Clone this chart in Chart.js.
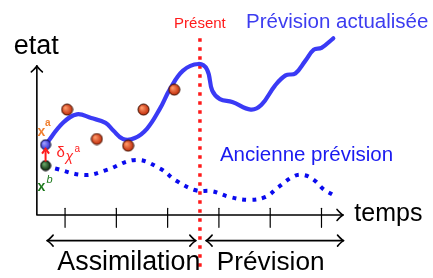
<!DOCTYPE html>
<html>
<head>
<meta charset="utf-8">
<script src="https://cdn.jsdelivr.net/npm/chart.js@4"></script>
<style>
html,body{margin:0;padding:0;background:#fff;}
#wrap{width:433px;height:278px;position:relative;}
</style>
</head>
<body>
<div id="wrap"><canvas id="c"></canvas></div>
<script>
// time (t) and state (s) units
const analysisT = [0.62,0.96,1.23,1.51,1.79,1.94,2.13,2.36,2.60,2.85,3.04,3.30,3.60,3.77,3.87,4.02,4.26,4.62,4.83,5.09,5.30,5.49,5.68,5.85,6.00,6.23];
const analysisS = [7.4,9.7,10.6,10.2,9.7,8.9,8.0,8.1,9.1,11.2,13.2,15.2,15.9,15.3,13.1,12.2,11.9,11.1,11.6,13.6,14.7,14.9,16.2,17.4,17.6,18.6];
const oldT = [0.62,0.81,1.38,1.79,2.38,2.85,3.17,3.55,3.87,4.21,4.58,4.91,5.15,5.47,5.66,5.85,6.04,6.23];
const oldS = [5.2,4.9,4.2,4.7,5.8,4.9,3.6,2.6,2.5,1.9,1.6,1.9,2.9,4.1,4.2,3.7,2.7,2.1];
const obsT = [1.04,1.62,2.23,2.53,3.13];
const obsS = [11.1,8.0,7.3,11.1,13.2];
const xa = [0.62, 7.4];
const xb = [0.62, 5.2];
const presentT = 3.63;
const tickT = [1,2,3,4,5,6];
const axisOrigin = [0.45, 0];
const axisEnd = [6.42, 15.7];
const assimRange = [0.65, 3.55];
const prevRange = [3.75, 6.43];

const zip = (a,b)=>a.map((v,i)=>({x:v,y:b[i]}));

function ball(r, inner, outer, edge){
  const c = document.createElement('canvas');
  const d = Math.ceil(r*2+2);
  c.width = d; c.height = d;
  const g = c.getContext('2d');
  const cx = d/2, cy = d/2;
  const grd = g.createRadialGradient(cx-r*0.35, cy-r*0.35, r*0.1, cx, cy, r);
  grd.addColorStop(0, inner);
  grd.addColorStop(1, outer);
  g.beginPath(); g.arc(cx,cy,r,0,Math.PI*2);
  g.fillStyle = grd; g.fill();
  g.lineWidth = 1; g.strokeStyle = edge; g.stroke();
  return c;
}
const redBall = ball(5.5, '#ff9a6a', '#c02a08', '#3a1000');
const blueBall = ball(5, '#a0a0ff', '#2a2ad0', '#101030');
const greenBall = ball(5, '#6aa86a', '#0a2a0a', '#000');

const F = '"Liberation Sans", Arial, sans-serif';
const labels = [
  {text:'etat', t:0.0, s:16.9, size:27, color:'#000', align:'left'},
  {text:'temps', t:6.64, s:-0.6, size:25, color:'#000', align:'left'},
  {text:'Présent', t:3.63, s:19.7, size:15, color:'#ff1a1a', align:'center'},
  {text:'Prévision actualisée', t:4.53, s:19.7, size:20.5, color:'#3c3cf0', align:'left'},
  {text:'Ancienne prévision', t:4.02, s:5.7, size:20.5, color:'#1a1af0', align:'left'},
  {text:'Assimilation', t:0.85, s:-5.8, size:26.8, color:'#000', align:'left'},
  {text:'Prévision', t:3.96, s:-5.8, size:26.2, color:'#000', align:'left'}
];

const deco = {
  id:'deco',
  beforeDatasetsDraw(chart){
    const ctx = chart.ctx, X = chart.scales.x, Y = chart.scales.y;
    const px = v=>X.getPixelForValue(v), py = v=>Y.getPixelForValue(v);
    ctx.save();
    ctx.strokeStyle = '#000'; ctx.lineWidth = 1.6; ctx.lineCap='round'; ctx.lineJoin='round';
    const ox = px(axisOrigin[0]), oy = py(axisOrigin[1]);
    const ex = px(axisEnd[0]), ey = py(axisEnd[1]);
    ctx.beginPath(); ctx.moveTo(ox, oy); ctx.lineTo(ox, ey); ctx.moveTo(ox, oy); ctx.lineTo(ex, oy); ctx.stroke();
    const head = (x,y,dir)=>{
      ctx.beginPath();
      const L=6, W=5.5;
      if(dir==='u'){ctx.moveTo(x-W,y+L);ctx.quadraticCurveTo(x-1,y+2,x,y);ctx.quadraticCurveTo(x+1,y+2,x+W,y+L);}
      if(dir==='r'){ctx.moveTo(x-L,y-W);ctx.quadraticCurveTo(x-2,y-1,x,y);ctx.quadraticCurveTo(x-2,y+1,x-L,y+W);}
      if(dir==='l'){ctx.moveTo(x+L,y-W);ctx.quadraticCurveTo(x+2,y-1,x,y);ctx.quadraticCurveTo(x+2,y+1,x+L,y+W);}
      ctx.stroke();
    };
    head(ox, ey, 'u'); head(ex, oy, 'r');
    ctx.lineWidth = 1.2;
    tickT.forEach(t=>{ctx.beginPath();ctx.moveTo(px(t),py(0.7));ctx.lineTo(px(t),py(-1.3));ctx.stroke();});
    ctx.lineWidth = 1.6;
    [assimRange, prevRange].forEach(r=>{
      const y = py(-2.7);
      ctx.beginPath(); ctx.moveTo(px(r[0]),y); ctx.lineTo(px(r[1]),y); ctx.stroke();
      head(px(r[0]),y,'l'); head(px(r[1]),y,'r');
    });
    ctx.restore();
  },
  afterDatasetsDraw(chart){
    const ctx = chart.ctx, X = chart.scales.x, Y = chart.scales.y;
    const px = v=>X.getPixelForValue(v), py = v=>Y.getPixelForValue(v);
    ctx.save();
    ctx.textBaseline = 'alphabetic';
    labels.forEach(l=>{
      ctx.textAlign = l.align;
      ctx.font = l.size+'px '+F; ctx.fillStyle = l.color;
      ctx.fillText(l.text, px(l.t), py(l.s));
    });
    ctx.textBaseline = 'middle';
    // red increment arrow
    ctx.strokeStyle = '#ff1a1a'; ctx.fillStyle='#ff1a1a'; ctx.lineWidth = 2;
    const ax = px(xa[0]), y0 = py(xb[1])-4, y1 = py(xa[1])+4;
    ctx.beginPath(); ctx.moveTo(ax,y0); ctx.lineTo(ax,y1+2); ctx.stroke();
    ctx.beginPath(); ctx.moveTo(ax-3.5,y1+5); ctx.lineTo(ax,y1); ctx.lineTo(ax+3.5,y1+5); ctx.stroke();
    // x^a
    ctx.textAlign='left';
    ctx.fillStyle = '#f08030';
    ctx.font = 'bold 14px '+F; ctx.fillText('x', ax-8, py(xa[1])-13);
    ctx.font = 'bold 10px '+F; ctx.fillText('a', ax-0.5, py(xa[1])-21);
    // delta
    ctx.fillStyle = '#ff2020';
    ctx.font = '15px '+F; ctx.fillText('δ', ax+11, py(xa[1])+8);
    ctx.font = 'italic 14px '+F; ctx.fillText('χ', ax+20, py(xa[1])+12);
    ctx.font = '10px '+F; ctx.fillText('a', ax+29, py(xa[1])+5);
    // x^b
    ctx.fillStyle = '#1e7a1e';
    ctx.font = 'bold 14px '+F; ctx.fillText('x', ax-8, py(xb[1])+22);
    ctx.font = 'italic 11px '+F; ctx.fillText('b', ax+1, py(xb[1])+14);
    ctx.restore();
  }
};

new Chart(document.getElementById('c'), {
  type:'scatter',
  data:{datasets:[
    {data:[{x:presentT,y:18.6},{x:presentT,y:-6}], showLine:true, borderColor:'#ff1a1a', borderWidth:3.5, borderDash:[3.5,5.5], pointRadius:0, order:5},
    {data:zip(oldT,oldS), showLine:true, borderColor:'#0a0aee', borderWidth:4, borderDash:[4,6], tension:0.4, pointRadius:0, order:4},
    {data:zip(analysisT,analysisS), showLine:true, borderColor:'#3a3af5', borderWidth:4.2, tension:0.4, pointRadius:0, borderCapStyle:'round', order:3},
    {data:zip(obsT,obsS), showLine:false, pointStyle:redBall, pointRadius:6, order:1},
    {data:[{x:xa[0],y:xa[1]}], showLine:false, pointStyle:blueBall, pointRadius:5, order:0},
    {data:[{x:xb[0],y:xb[1]}], showLine:false, pointStyle:greenBall, pointRadius:5, order:0}
  ]},
  options:{
    responsive:true, maintainAspectRatio:false, animation:false,
    layout:{padding:0},
    plugins:{legend:{display:false}, tooltip:{enabled:false}},
    scales:{
      x:{type:'linear', min:-7/53, max:426/53, display:false},
      y:{type:'linear', min:-5.9, max:21.9, display:false}
    }
  },
  plugins:[deco]
});
</script>
</body>
</html>
